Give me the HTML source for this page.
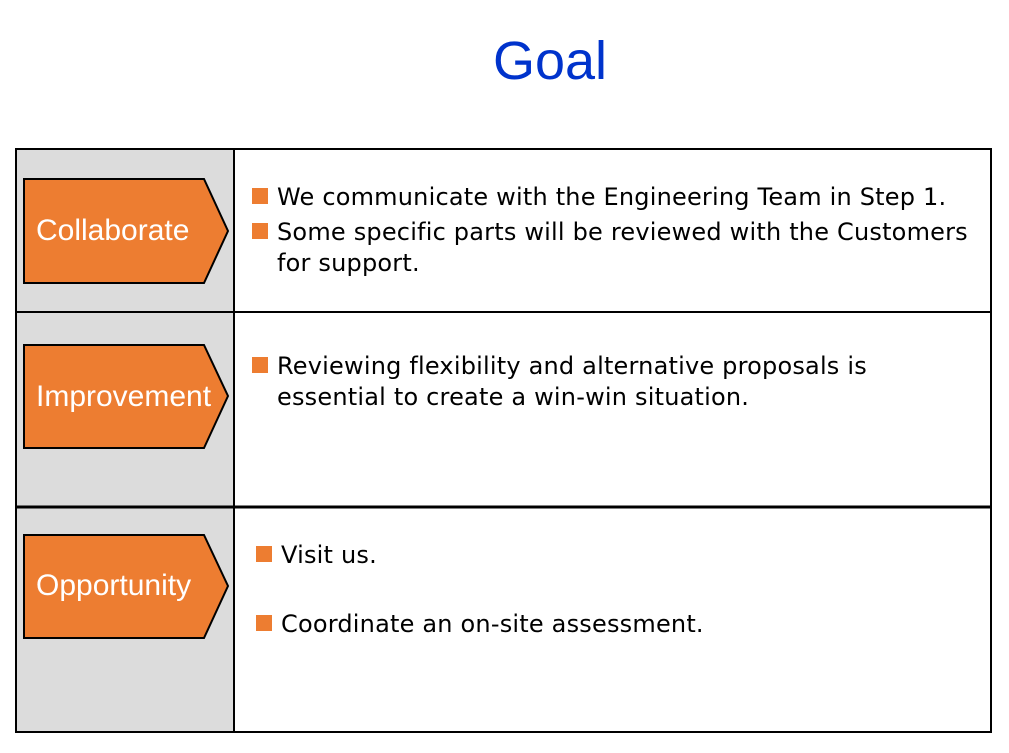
<!DOCTYPE html>
<html><head><meta charset="utf-8"><style>
body{margin:0;width:1009px;height:753px;background:#fff;position:relative;overflow:hidden;font-family:"Liberation Sans",sans-serif}
.t{position:absolute;font-size:24px;color:#000;line-height:31px;font-family:"DejaVu Sans","Liberation Sans",sans-serif;letter-spacing:0.2px}
.b{position:absolute;width:16px;height:16px;background:#ed7d31}
.l{position:absolute;color:#fff;font-size:30px;font-family:"Liberation Sans",sans-serif}
</style></head><body>
<div style="position:absolute;left:0;width:1100px;top:30px;text-align:center;font-size:54px;color:#0033cc">Goal</div>
<svg width="1009" height="753" style="position:absolute;left:0;top:0">
<rect x="16" y="149" width="218" height="583" fill="#dcdcdc"/>
<rect x="16" y="149" width="975" height="583" fill="none" stroke="#000" stroke-width="2"/>
<line x1="234" y1="149" x2="234" y2="732" stroke="#000" stroke-width="2"/>
<line x1="16" y1="312" x2="991" y2="312" stroke="#000" stroke-width="2"/>
<line x1="16" y1="507" x2="991" y2="507" stroke="#000" stroke-width="3"/>
<polygon points="24,179 204,179 228,231 204,283 24,283" fill="#ed7d31" stroke="#000" stroke-width="2"/>
<polygon points="24,345 204,345 228,396 204,448 24,448" fill="#ed7d31" stroke="#000" stroke-width="2"/>
<polygon points="24,535 204,535 228,586 204,638 24,638" fill="#ed7d31" stroke="#000" stroke-width="2"/>
</svg>
<div class="l" style="left:36px;top:214px">Collaborate</div>
<div class="l" style="left:36px;top:380px">Improvement</div>
<div class="l" style="left:36px;top:569px">Opportunity</div>
<div class="b" style="left:252px;top:188px"></div>
<div class="t" style="left:277px;top:182px">We communicate with the Engineering Team in Step 1.</div>
<div class="b" style="left:252px;top:223px"></div>
<div class="t" style="left:277px;top:217px">Some specific parts will be reviewed with the Customers<br>for support.</div>
<div class="b" style="left:252px;top:357px"></div>
<div class="t" style="left:277px;top:351px">Reviewing flexibility and alternative proposals is<br>essential to create a win-win situation.</div>
<div class="b" style="left:256px;top:546px"></div>
<div class="t" style="left:281px;top:540px">Visit us.</div>
<div class="b" style="left:256px;top:615px"></div>
<div class="t" style="left:281px;top:609px">Coordinate an on-site assessment.</div>
</body></html>
